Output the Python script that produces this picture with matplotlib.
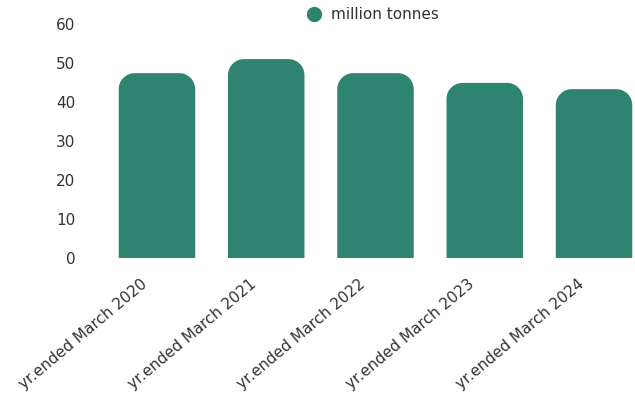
import matplotlib.pyplot as plt
from matplotlib.path import Path
from matplotlib.patches import PathPatch
from matplotlib.transforms import ScaledTranslation
import numpy as np

plt.rcParams['font.family'] = ['DejaVu Sans']

categories = ["yr.ended March 2020", "yr.ended March 2021", "yr.ended March 2022",
              "yr.ended March 2023", "yr.ended March 2024"]
values = [47.4, 51.0, 47.4, 44.9, 43.3]
series_name = "million tonnes"
color = "#2f8371"
text_color = "#333333"


def rounded_top(x0, w, h, rx, ry):
    # bar with rounded top corners, square bottom
    k = 0.5523
    verts = [
        (x0, 0), (x0, h - ry),
        (x0, h - ry + k * ry), (x0 + rx - k * rx, h), (x0 + rx, h),
        (x0 + w - rx, h),
        (x0 + w - rx + k * rx, h), (x0 + w, h - ry + k * ry), (x0 + w, h - ry),
        (x0 + w, 0), (x0, 0),
    ]
    codes = [Path.MOVETO, Path.LINETO,
             Path.CURVE4, Path.CURVE4, Path.CURVE4,
             Path.LINETO,
             Path.CURVE4, Path.CURVE4, Path.CURVE4,
             Path.LINETO, Path.CLOSEPOLY]
    return Path(verts, codes)


fig = plt.figure(figsize=(6.35, 3.99), dpi=100)
ax = fig.add_axes([102 / 635, 141 / 399, 533 / 635, 234 / 399])

x = np.arange(len(categories))
bars = ax.bar(x, values, width=0.7, color=color)
ax.set_xlim(-0.503, 4.375)
ax.set_ylim(0, 60)
ax.set_yticks(range(0, 61, 10))
ax.set_xticks(x)
ax.set_xticklabels(categories, rotation=40, ha="right", va="center",
                   rotation_mode="anchor", fontsize=11)
ax.tick_params(length=0, colors=text_color)
ax.tick_params(axis="y", pad=19, labelsize=11)
ax.tick_params(axis="x", pad=0)
offset = ScaledTranslation(-12 / 100, -24 / 100, fig.dpi_scale_trans)
for lbl in ax.get_xticklabels():
    lbl.set_transform(lbl.get_transform() + offset)
for s in ax.spines.values():
    s.set_visible(False)

# swap plain rectangles for rounded-top shapes
fig.canvas.draw()
px_x = ax.transData.transform((1, 0))[0] - ax.transData.transform((0, 0))[0]
px_y = ax.transData.transform((0, 1))[1] - ax.transData.transform((0, 0))[1]
r = 16
for b in bars:
    b.set_visible(False)
    p = rounded_top(b.get_x(), b.get_width(), b.get_height(), r / px_x, r / px_y)
    ax.add_patch(PathPatch(p, facecolor=color, edgecolor="none"))

ax.plot([], [], "o", color=color, markersize=10, label=series_name)
ax.legend(loc="upper center", bbox_to_anchor=(0.50, 1.13), frameon=False,
          fontsize=11, handletextpad=0.1, labelcolor=text_color)

fig.savefig("out.png", dpi=100)
